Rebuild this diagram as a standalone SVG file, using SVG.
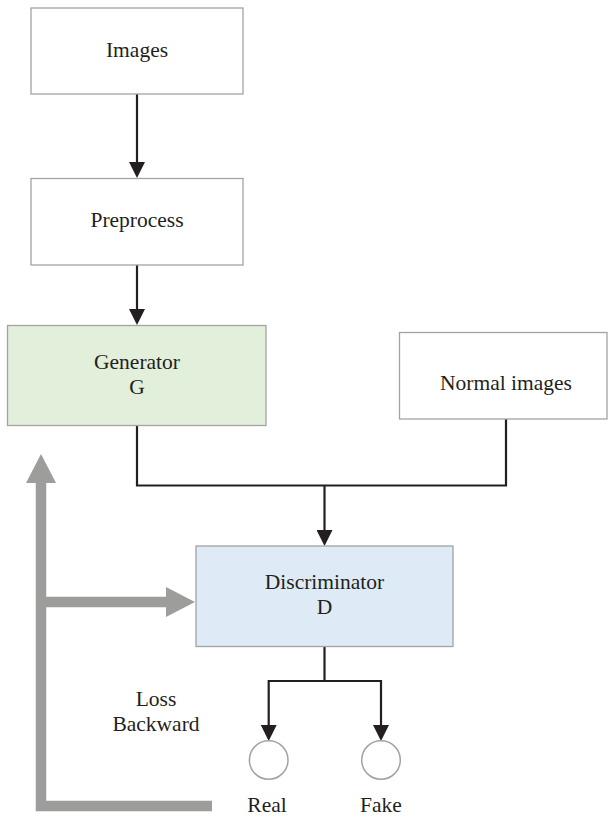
<svg xmlns="http://www.w3.org/2000/svg" width="608" height="818" viewBox="0 0 608 818">
  <style>
    .box { stroke: #a3a3a3; stroke-width: 1.3; }
    .plain { fill: #ffffff; }
    .gen { fill: #e2efda; }
    .dis { fill: #deebf6; }
    .lbl { font-family: 'Liberation Serif', 'DejaVu Serif', serif; font-size: 21.5px; fill: #231f20; text-anchor: middle; }
    .wire { fill: none; stroke: #231f20; stroke-width: 2.2; }
    .fb { fill: none; stroke: #9d9d9c; stroke-width: 10.5; stroke-linejoin: miter; }
    .out { fill: #ffffff; stroke: #a3a3a3; stroke-width: 1.5; }
  </style>
  <defs>
    <marker id="ah" viewBox="0 0 16 16" refX="13" refY="8" markerWidth="16" markerHeight="16" markerUnits="userSpaceOnUse" orient="auto">
      <path d="M0,0 L16,8 L0,16 z" fill="#231f20"/>
    </marker>
    <marker id="gh" viewBox="0 0 30 30" refX="1" refY="15" markerWidth="30" markerHeight="30" markerUnits="userSpaceOnUse" orient="auto">
      <path d="M0,0 L29,15 L0,30 z" fill="#9d9d9c"/>
    </marker>
  </defs>

  <g id="connectors">
    <path class="wire" d="M137,94 V175" marker-end="url(#ah)"/>
    <path class="wire" d="M137,265 V322" marker-end="url(#ah)"/>
    <path class="wire" d="M137,425.5 V485.5 H506 V419"/>
    <path class="wire" d="M324.5,485.5 V543" marker-end="url(#ah)"/>
    <path class="wire" d="M324.5,646.5 V681 H268.7 V738" marker-end="url(#ah)"/>
    <path class="wire" d="M324.5,681 H381 V738" marker-end="url(#ah)"/>
    <path class="fb" d="M212,806 H41 V482" marker-end="url(#gh)"/>
    <path class="fb" d="M41,602 H167" marker-end="url(#gh)"/>
  </g>

  <g id="images">
    <rect class="box plain" x="31" y="8" width="212" height="86"/>
    <text class="lbl" x="137" y="57" font-family="Liberation Serif, serif">Images</text>
  </g>
  <g id="preprocess">
    <rect class="box plain" x="31" y="178.5" width="212" height="86.5"/>
    <text class="lbl" x="137" y="227" font-family="Liberation Serif, serif">Preprocess</text>
  </g>
  <g id="generator">
    <rect class="box gen" x="7.5" y="325.5" width="258.5" height="100"/>
    <text class="lbl" x="137" y="368.5" font-family="Liberation Serif, serif">Generator</text>
    <text class="lbl" x="137" y="393.5" font-family="Liberation Serif, serif">G</text>
  </g>
  <g id="normal-images">
    <rect class="box plain" x="399.5" y="332.5" width="207.5" height="86.5"/>
    <text class="lbl" x="506" y="390" font-family="Liberation Serif, serif">Normal images</text>
  </g>
  <g id="discriminator">
    <rect class="box dis" x="196" y="546" width="257" height="100.5"/>
    <text class="lbl" x="324.5" y="589" font-family="Liberation Serif, serif">Discriminator</text>
    <text class="lbl" x="324.5" y="614" font-family="Liberation Serif, serif">D</text>
  </g>
  <g id="loss-label">
    <text class="lbl" x="156" y="706" font-family="Liberation Serif, serif">Loss</text>
    <text class="lbl" x="156" y="731" font-family="Liberation Serif, serif">Backward</text>
  </g>
  <g id="real">
    <circle class="out" cx="268.7" cy="760" r="19.3"/>
    <text class="lbl" x="267" y="812" font-family="Liberation Serif, serif">Real</text>
  </g>
  <g id="fake">
    <circle class="out" cx="381" cy="760" r="19.3"/>
    <text class="lbl" x="381" y="812" font-family="Liberation Serif, serif">Fake</text>
  </g>
</svg>
